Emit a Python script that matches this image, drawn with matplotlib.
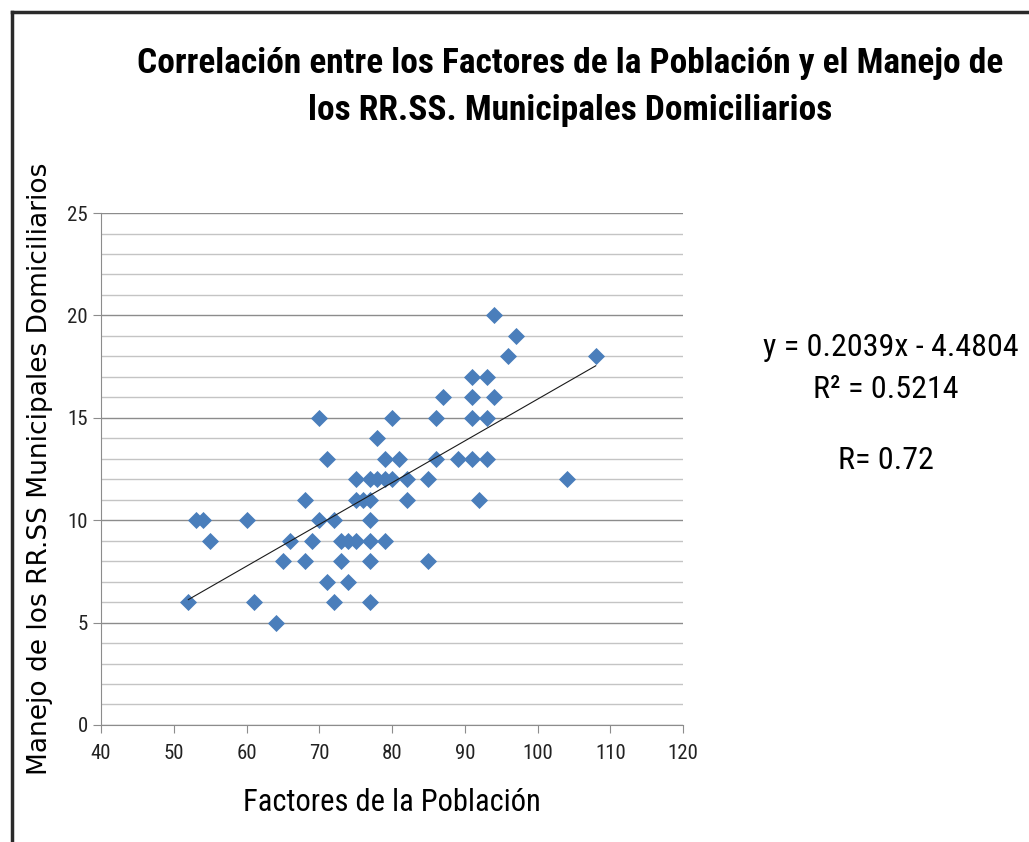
import matplotlib.pyplot as plt
from matplotlib.lines import Line2D
from matplotlib.ticker import MultipleLocator

# puntos (Factores de la Población, Manejo de los RR.SS)
factores = [52, 53, 54, 55, 60, 61, 64, 65, 66, 68, 68, 69, 70, 70, 71, 71,
            72, 72, 73, 73, 74, 74, 75, 75, 75, 76, 77, 77, 77, 77, 77, 77,
            78, 78, 79, 79, 79, 80, 80, 81, 82, 82, 85, 85, 86, 86, 87, 89,
            91, 91, 91, 91, 92, 93, 93, 93, 94, 94, 96, 97, 104, 108]
manejo = [6, 10, 10, 9, 10, 6, 5, 8, 9, 11, 8, 9, 15, 10, 13, 7,
          10, 6, 9, 8, 9, 7, 12, 11, 9, 11, 12, 11, 10, 9, 8, 6,
          14, 12, 13, 12, 9, 15, 12, 13, 12, 11, 12, 8, 15, 13, 16, 13,
          17, 16, 15, 13, 11, 17, 15, 13, 20, 16, 18, 19, 12, 18]

pendiente = 0.2039
intercepto = -4.4804
r2 = 0.5214
r = 0.72

fuente = ['Roboto Condensed', 'Open Sans Condensed', 'Liberation Sans Narrow',
          'Liberation Sans']

fig = plt.figure(figsize=(10.29, 8.42), dpi=100)
ax = fig.add_axes([0.0982, 0.139, 0.5656, 0.608])

ax.scatter(factores, manejo, marker='D', s=8.7 ** 2, color='#4a7ebb',
           linewidths=0, zorder=3)

x0, x1 = min(factores), max(factores)
ax.plot([x0, x1], [pendiente * x0 + intercepto, pendiente * x1 + intercepto],
        color='#1a1a1a', lw=0.8, zorder=4)

ax.set_xlim(40, 120)
ax.set_ylim(0, 25)
ax.xaxis.set_major_locator(MultipleLocator(10))
ax.yaxis.set_major_locator(MultipleLocator(5))
ax.yaxis.set_minor_locator(MultipleLocator(1))
ax.grid(axis='y', which='major', color='#8c8c8c', lw=1)
ax.grid(axis='y', which='minor', color='#c4c4c4', lw=1)
ax.set_axisbelow(True)
ax.tick_params(which='minor', length=0)
ax.tick_params(which='major', direction='out', length=6, color='#8c8c8c',
               labelsize=15, labelcolor='#222222')
ax.tick_params(axis='x', pad=8)
for lbl in ax.get_xticklabels() + ax.get_yticklabels():
    lbl.set_family(fuente)
for s in ['top', 'right']:
    ax.spines[s].set_visible(False)
for s in ['left', 'bottom']:
    ax.spines[s].set_color('#8c8c8c')

ax.set_xlabel('Factores de la Población', family=fuente, fontsize=22,
              labelpad=18)
ax.set_ylabel('Manejo de los RR.SS Municipales Domiciliarios',
              family='DejaVu Sans', fontsize=19, labelpad=10)

fig.text(0.554, 0.924, 'Correlación entre los Factores de la Población y el Manejo de',
         ha='center', va='center', family=fuente, weight='bold', fontsize=25.5)
fig.text(0.554, 0.869, 'los RR.SS. Municipales Domiciliarios',
         ha='center', va='center', family=fuente, weight='bold', fontsize=25.5)

fig.text(0.866, 0.587, f'y = {pendiente}x - {abs(intercepto)}', ha='center',
         va='center', family=fuente, fontsize=23)
fig.text(0.861, 0.538, f'R² = {r2}', ha='center', va='center',
         family=fuente, fontsize=23)
fig.text(0.861, 0.453, f'R= {r}', ha='center', va='center',
         family=fuente, fontsize=23)

# marco exterior
fig.add_artist(Line2D([0.012, 0.012], [0, 0.986], color='#2a2a2a', lw=2.5))
fig.add_artist(Line2D([0.012, 1.0], [0.986, 0.986], color='#2a2a2a', lw=2.5))

fig.savefig('out.png', dpi=100)
